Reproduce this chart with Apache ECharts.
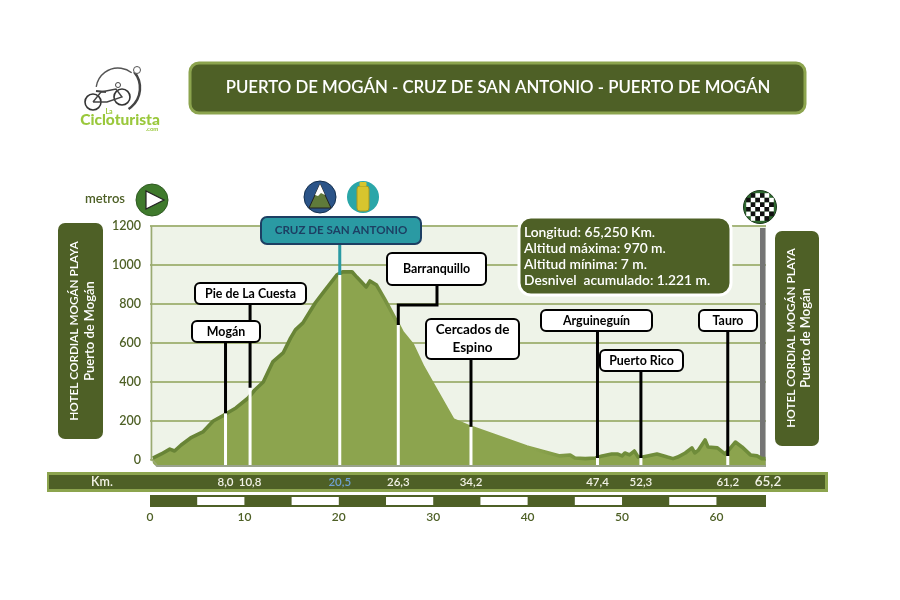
<!DOCTYPE html>
<html>
<head>
<meta charset="utf-8">
<style>html,body{margin:0;padding:0;background:#fff}#c{width:900px;height:600px}</style>
<script src="https://cdn.jsdelivr.net/npm/echarts@6/dist/echarts.min.js"></script>
</head>
<body>
<div id="c"></div>
<script>
const profileKm = [0.3,1.2,2.1,2.6,3.3,4.3,5.6,6.7,7.7,8.0,9.1,10.4,11.1,12.0,13.0,14.1,14.9,15.4,16.2,17.5,18.3,19.8,20.4,21.4,21.9,22.9,23.3,24.0,24.9,26.2,26.7,27.8,28.9,30.4,32.1,33.9,36.3,39.9,43.4,44.5,45.0,46.1,47.2,47.9,48.9,49.5,50.0,50.3,50.8,51.3,51.7,52.2,53.7,54.8,55.4,55.9,56.7,57.4,57.7,58.1,58.8,59.1,60.1,60.9,61.3,62.0,62.7,63.6,64.3,64.8,65.2];
const profileElev = [10,31,56,46,77,113,144,200,226,236,267,318,359,400,503,549,626,667,703,805,856,949,965,965,938,887,918,897,821,703,656,590,477,349,205,169,128,67,21,26,10,7,10,21,31,31,21,36,26,46,15,15,31,15,7,15,36,62,36,51,103,67,62,31,51,92,67,26,21,7,7];

const stopNames = ['Mogán','Pie de La Cuesta','Cruz de San Antonio','Barranquillo','Cercados de Espino','Arguineguín','Puerto Rico','Tauro'];
const stopLabels = ['8,0','10,8','20,5','26,3','34,2','47,4','52,3','61,2'];
const stopKm = [8.0,10.6,20.1,26.3,34.0,47.4,52.0,61.2];
const stemTop = [240,370,949,692,170,10,10,20];
const leaderTop = [605,800,1108,795,518,662,456,662];
const elbowKm = 30.4, elbowTopElev = 900;

const endKm = 65.25, endLabel = '65,2';
const elevTicks = [0,200,400,600,800,1000,1200];
const scaleTicks = [0,10,20,30,40,50,60];
const scaleWhiteFrom = [5,15,25,35,45,55];
const scaleWhiteTo = [10,20,30,40,50,60];
const titleText = 'PUERTO DE MOGÁN - CRUZ DE SAN ANTONIO - PUERTO DE MOGÁN';
const infoLines = ['Longitud: 65,250 Km.','Altitud máxima: 970 m.','Altitud mínima: 7 m.','Desnivel  acumulado: 1.221 m.'];

const FONT = 'Lato, "Open Sans", sans-serif';
const DARK = '#4e6026', FILL = '#8ca44e', STROKE = '#688436', TEAL = '#2a9aa3', NAVY = '#1d3f63';

const chart = echarts.init(document.getElementById('c'), null, {renderer:'canvas'});

function box(name, x, y, w, h, teal, fs) {
  return [{
    type:'rect', z:20, shape:{x,y,width:w,height:h,r:teal?6:5},
    style:{fill:teal?TEAL:'#fff',stroke:teal?NAVY:'#000',lineWidth:2}
  },{
    type:'text', z:21, x:x+w/2, y:y+h/2,
    style:{text:name,align:'center',verticalAlign:'middle',fill:teal?NAVY:'#000',font:'bold '+(fs||12.4)+'px '+FONT,lineHeight:18}
  }];
}
function vtext(t,x,y,font,fill){
  return {type:'text',z:21,x,y,rotation:Math.PI/2,style:{text:t,align:'center',verticalAlign:'middle',fill:fill||'#fff',font}};
}
const g = [];
// header
g.push({type:'rect',z:5,shape:{x:190,y:63,width:615,height:50,r:9},style:{fill:DARK,stroke:FILL,lineWidth:3}});
g.push({type:'text',z:6,x:498,y:88,style:{text:titleText,align:'center',verticalAlign:'middle',fill:'#fff',font:'600 16.8px '+FONT}});
// logo
g.push({type:'arc',z:5,shape:{cx:118,cy:90,r:22,startAngle:-3.0,endAngle:-0.9},style:{stroke:'#555',fill:'none',lineWidth:1.4}});
g.push({type:'arc',z:5,shape:{cx:115,cy:88,r:25,startAngle:-0.7,endAngle:1.0},style:{stroke:'#444',fill:'none',lineWidth:2.5}});
g.push({type:'circle',z:5,shape:{cx:137,cy:70,r:3.5},style:{stroke:'#555',fill:'#fff',lineWidth:1}});
g.push({type:'circle',z:5,shape:{cx:93,cy:102,r:8},style:{stroke:'#333',fill:'none',lineWidth:1.6}});
g.push({type:'circle',z:5,shape:{cx:122,cy:97,r:8},style:{stroke:'#333',fill:'none',lineWidth:1.6}});
g.push({type:'polyline',z:5,shape:{points:[[93,102],[101,92],[116,89],[122,97],[107,102],[93,102]]},style:{stroke:'#444',fill:'none',lineWidth:1.4}});
g.push({type:'polyline',z:5,shape:{points:[[96,91],[106,92]]},style:{stroke:'#444',lineWidth:2,fill:'none'}});
g.push({type:'circle',z:5,shape:{cx:118,cy:85,r:2.5},style:{stroke:'#444',fill:'#fff',lineWidth:1}});
g.push({type:'text',z:5,x:120,y:120,style:{text:'Cicloturista',align:'center',verticalAlign:'middle',fill:'#9ac83c',font:'900 15.5px '+FONT}});
g.push({type:'text',z:5,x:109,y:112,style:{text:'La',align:'center',verticalAlign:'middle',fill:'#9ac83c',font:'bold 7px '+FONT}});
g.push({type:'text',z:5,x:152,y:129,style:{text:'.com',align:'center',verticalAlign:'middle',fill:'#9ac83c',font:'bold 6px '+FONT}});
// metros + start
g.push({type:'text',z:5,x:105,y:199,style:{text:'metros',align:'center',verticalAlign:'middle',fill:DARK,font:'600 13px '+FONT}});
g.push({type:'circle',z:5,shape:{cx:152,cy:200,r:16},style:{fill:'#3f7a2c',stroke:'#2f5a22',lineWidth:1}});
g.push({type:'polygon',z:6,shape:{points:[[146,191],[146,209],[164,200]]},style:{fill:'#fff',stroke:'#222',lineWidth:1.2}});
// mountain icon
g.push({type:'circle',z:5,shape:{cx:320,cy:197,r:16},style:{fill:'#2b5488',stroke:'#14304f',lineWidth:1}});
g.push({type:'polygon',z:6,shape:{points:[[320,184],[331,208],[309,208]]},style:{fill:'#5f7a3a',stroke:'#222',lineWidth:1}});
g.push({type:'polygon',z:7,shape:{points:[[320,184],[325,195],[321,193],[318,196],[315,195]]},style:{fill:'#fff'}});
// bottle icon
g.push({type:'circle',z:5,shape:{cx:363,cy:197,r:16},style:{fill:'#2aa6a8'}});
g.push({type:'rect',z:6,shape:{x:357,y:186,width:12,height:25,r:3},style:{fill:'#d8c52e',stroke:'#a8981e',lineWidth:1}});
g.push({type:'rect',z:7,shape:{x:359.5,y:182,width:7,height:4,r:1},style:{fill:'#d8c52e'}});
// finish flag
g.push({type:'circle',z:5,shape:{cx:760,cy:207,r:16.5},style:{fill:'#2f6a30',stroke:'#1c3a1c',lineWidth:1}});
for (let i=-3;i<3;i++) for (let j=-3;j<3;j++) {
  const cx=(i+.5)*4.6, cy=(j+.5)*4.6;
  if (Math.hypot(cx,cy)>13.5) continue;
  g.push({type:'rect',z:6,shape:{x:760+i*4.6,y:207+j*4.6,width:4.6,height:4.6},style:{fill:(i+j)%2===0?'#fff':'#111'}});
}
// side panels
g.push({type:'rect',z:5,shape:{x:58,y:223,width:45,height:216,r:7},style:{fill:DARK}});
g.push(vtext('HOTEL CORDIAL MOGÁN PLAYA',74,331,'600 11.8px '+FONT));
g.push(vtext('Puerto de Mogán',90,331,'600 13px '+FONT));
g.push({type:'rect',z:5,shape:{x:775,y:231,width:44,height:215,r:7},style:{fill:DARK}});
g.push(vtext('HOTEL CORDIAL MOGÁN PLAYA',791,338,'600 11.8px '+FONT));
g.push(vtext('Puerto de Mogán',806,338,'600 13px '+FONT));
// km bar
g.push({type:'rect',z:-1,shape:{x:47,y:472,width:781,height:20},style:{fill:FILL}});
g.push({type:'rect',z:-1,shape:{x:49,y:475,width:776,height:14},style:{fill:DARK}});
g.push({type:'text',z:5,x:102,y:482,style:{text:'Km.',align:'center',verticalAlign:'middle',fill:'#f2f2e6',font:'600 12.5px '+FONT}});
// end-of-route distance, same strip
g.push({type:'text',z:5,x:768,y:482,style:{text:endLabel,align:'center',verticalAlign:'middle',fill:'#f2f2e6',font:'600 13.5px '+FONT}});
// plot edges
g.push({type:'rect',z:1.5,shape:{x:760,y:228,width:5.5,height:238},style:{fill:'#757575'}});
g.push({type:'rect',z:1.5,shape:{x:150,y:464.5,width:616,height:2.5},style:{fill:'#9aa38c'}});
g.push({type:'polygon',z:8,shape:{points:[[148,458],[157,467.5],[148,467.5]]},style:{fill:'#fff'}});
g.push({type:'polyline',z:8,shape:{points:[[151.5,226],[151.5,459],[157,465]]},style:{stroke:'#9aaa72',fill:'none',lineWidth:1.6}});
// info panel
g.push({type:'rect',z:15,shape:{x:519,y:217,width:212,height:78,r:12},style:{fill:DARK,stroke:'#fff',lineWidth:3}});
[233,249,265,281].forEach((y,i)=>g.push({type:'text',z:16,x:524,y,style:{text:infoLines[i],align:'left',verticalAlign:'middle',fill:'#fff',font:'600 13.8px '+FONT}}));
// boxes
g.push(...box(stopNames[0],192,321,68,21));
g.push(...box(stopNames[1],195,283,111,21));
g.push(...box(stopNames[2].toUpperCase(),261,217,160,27,true,11.6));
g.push(...box(stopNames[3],387,253,99,32));
g.push(...box('Cercados de\nEspino',426,319,93,40,false,13.5));
g.push(...box(stopNames[5],541,310,111,21));
g.push(...box(stopNames[6],600,350,83,21));
g.push(...box(stopNames[7],699,310,58,21));

const floorElev = -25.64;
const series = [];
elevTicks.forEach(v=>{
  series.push({type:'line',z:1,showSymbol:false,animation:false,silent:true,
    data:[[0,v],[endKm,v]],lineStyle:{color:'#a6b67c',width:2}});
});
series.push({
  type:'line', name:'Perfil', z:2, showSymbol:false, animation:false, silent:true,
  data:profileKm.map((k,i)=>[k,profileElev[i]]),
  lineStyle:{width:3.6,join:'round',color:{type:'linear',x:0,y:0,x2:1,y2:0,colorStops:[
    {offset:0,color:STROKE},{offset:0.36,color:STROKE},{offset:0.41,color:FILL},
    {offset:0.62,color:FILL},{offset:0.72,color:'#6f8c3a'},{offset:1,color:'#6f8c3a'}]}},
  areaStyle:{color:FILL,opacity:1,origin:'start'}
});
stopKm.forEach((k,i)=>{
  series.push({type:'line',z:3,showSymbol:false,animation:false,silent:true,
    data:[[k,floorElev],[k,stemTop[i]]],lineStyle:{color:'#fff',width:3,cap:'butt'}});
  const pts = i===3
    ? [[k,stemTop[i]],[k,leaderTop[i]],[elbowKm,leaderTop[i]],[elbowKm,elbowTopElev]]
    : [[k,stemTop[i]],[k,leaderTop[i]]];
  series.push({type:'line',z:4,showSymbol:false,animation:false,silent:true,data:pts,
    lineStyle:{color:i===2?TEAL:'#000',width:3,cap:'butt',join:'miter'}});
});
series.push({
  type:'custom',xAxisIndex:1,yAxisIndex:1,animation:false,silent:true,
  data:scaleWhiteFrom.map((a,i)=>[a,scaleWhiteTo[i]]),encode:{x:[0,1]},
  renderItem(p,api){
    const a=api.coord([api.value(0),0]),b=api.coord([api.value(1),1]);
    return {type:'rect',shape:{x:a[0],y:b[1]+2,width:b[0]-a[0],height:a[1]-b[1]-4},style:{fill:'#fff'}};
  }
});

chart.setOption({
  animation:false,
  backgroundColor:'#fff',
  grid:[
    {left:150,top:226,width:616,height:239,show:true,backgroundColor:'#eef3e8',borderWidth:0},
    {left:150,top:495,width:616,height:12,show:true,backgroundColor:DARK,borderWidth:0}
  ],
  xAxis:[{
    type:'value',gridIndex:0,min:0,max:endKm,
    axisLine:{show:false},axisTick:{show:false},splitLine:{show:false},
    axisLabel:{customValues:stopKm,margin:11,fontFamily:FONT,fontWeight:600,fontSize:11.5,
      color:v=>Math.abs(v-stopKm[2])<1e-6?'#6fa0d0':'#f2f2e6',
      formatter:v=>stopLabels[stopKm.indexOf(v)]}
  },{
    type:'value',gridIndex:1,min:0,max:endKm,interval:10,
    axisLine:{show:false},axisTick:{show:false},splitLine:{show:false},
    axisLabel:{customValues:scaleTicks,margin:4,fontFamily:FONT,fontWeight:600,fontSize:12,color:DARK,formatter:v=>String(v)}
  }],
  yAxis:[{
    type:'value',gridIndex:0,min:floorElev,max:1200,
    axisLine:{show:false},
    axisTick:{show:false,customValues:elevTicks},
    splitLine:{show:false},
    axisLabel:{customValues:elevTicks,margin:9,fontFamily:FONT,fontWeight:600,fontSize:12.5,color:DARK,formatter:v=>String(v)}
  },{
    type:'value',gridIndex:1,min:0,max:1,show:false
  }],
  series,
  graphic:{elements:g}
});
</script>
</body>
</html>
